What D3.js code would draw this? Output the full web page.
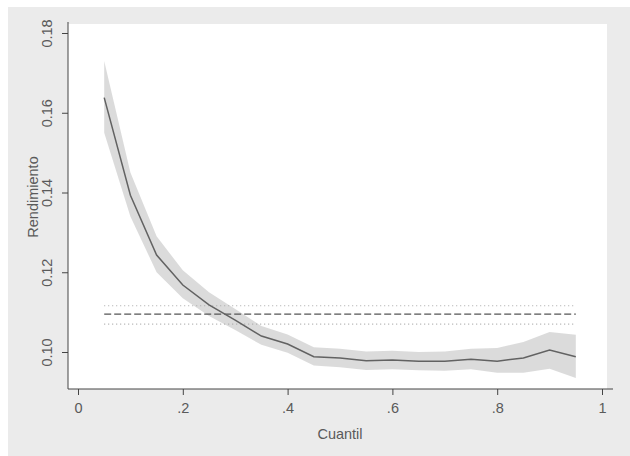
<html>
<head>
<meta charset="utf-8">
<script src="https://cdn.jsdelivr.net/npm/d3@7"></script>
<style>
	body { margin: 0; background: #ffffff; }
	svg { display: block; font-family: "Liberation Sans", Arial, Helvetica, sans-serif; }
	.tick text { fill: #5a5a5a; font-size: 14.5px; }
</style>
</head>
<body>
<svg id="chart" width="630" height="456"></svg>
<script>
// estimated quantile regression estimates
var quantiles = [0.05, 0.10, 0.15, 0.20, 0.25, 0.30, 0.35, 0.40, 0.45, 0.50,
                 0.55, 0.60, 0.65, 0.70, 0.75, 0.80, 0.85, 0.90, 0.95];
var coef  = [0.1638, 0.1393, 0.1243, 0.1168, 0.1118, 0.1080, 0.1040, 0.1020, 0.0988, 0.0985,
             0.0978, 0.0980, 0.0977, 0.0977, 0.0982, 0.0977, 0.0985, 0.1005, 0.0988];
var lower = [0.1550, 0.1340, 0.1200, 0.1135, 0.1090, 0.1055, 0.1018, 0.0998, 0.0966, 0.0962,
             0.0955, 0.0957, 0.0954, 0.0953, 0.0957, 0.0948, 0.0948, 0.0958, 0.0935];
var upper = [0.1730, 0.1450, 0.1290, 0.1205, 0.1150, 0.1108, 0.1065, 0.1044, 0.1012, 0.1008,
             0.1001, 0.1003, 0.1000, 0.1001, 0.1008, 0.1010, 0.1025, 0.1050, 0.1043];
// OLS estimate and its interval
var olsCoef = 0.1095, olsLow = 0.1070, olsHigh = 0.1116;
var xTicks = [0, 0.2, 0.4, 0.6, 0.8, 1];
var xTickLabels = ["0", ".2", ".4", ".6", ".8", "1"];
var yTicks = [0.10, 0.12, 0.14, 0.16, 0.18];

var svg = d3.select("#chart");

// outer gray area
svg.append("rect").attr("x", 8).attr("y", 7).attr("width", 622).attr("height", 449)
	.attr("fill", "#ebebeb");
// plot region
svg.append("rect").attr("x", 68).attr("y", 24).attr("width", 539).attr("height", 365)
	.attr("fill", "#ffffff");

var x = d3.scaleLinear().domain([0, 1]).range([78, 602]);
var y = d3.scaleLinear().domain([0.10, 0.18]).range([352, 33]);

var pts = quantiles.map(function(q, i) {
	return {q: q, b: coef[i], lo: lower[i], hi: upper[i]};
});

// confidence band
svg.append("path")
	.datum(pts)
	.attr("fill", "#d2d2d2")
	.attr("fill-opacity", 0.8)
	.attr("d", d3.area()
		.x(function(d) { return x(d.q); })
		.y0(function(d) { return y(d.lo); })
		.y1(function(d) { return y(d.hi); }));

// OLS lines
var q0 = quantiles[0], q1 = quantiles[quantiles.length - 1];
[[olsHigh, "1,3", "#a8a8a8", 1.2], [olsLow, "1,3", "#a8a8a8", 1.2], [olsCoef, "7,3", "#555555", 1.3]]
	.forEach(function(l) {
		svg.append("line")
			.attr("x1", x(q0)).attr("x2", x(q1))
			.attr("y1", y(l[0])).attr("y2", y(l[0]))
			.attr("stroke", l[2])
			.attr("stroke-width", l[3])
			.attr("stroke-dasharray", l[1]);
	});

// estimate line
svg.append("path")
	.datum(pts)
	.attr("fill", "none")
	.attr("stroke", "#626262")
	.attr("stroke-width", 1.5)
	.attr("d", d3.line()
		.x(function(d) { return x(d.q); })
		.y(function(d) { return y(d.b); }));

// Y axis
var gy = svg.append("g")
	.attr("transform", "translate(68,0)")
	.call(d3.axisLeft(y).tickValues(yTicks).tickFormat(d3.format(".2f")).tickSize(6).tickSizeOuter(0));
gy.select(".domain").attr("d", "M0,22V389").attr("stroke", "#444");
gy.selectAll(".tick line").attr("stroke", "#444");
gy.selectAll(".tick text")
	.attr("transform", "rotate(-90)")
	.attr("x", 0).attr("y", -16)
	.attr("dy", "0")
	.attr("text-anchor", "middle");

// X axis
var gx = svg.append("g")
	.attr("transform", "translate(0,389)")
	.call(d3.axisBottom(x).tickValues(xTicks)
		.tickFormat(function(d, i) { return xTickLabels[i]; })
		.tickSize(6).tickSizeOuter(0));
gx.select(".domain").attr("d", "M68,0H613").attr("stroke", "#444");
gx.selectAll(".tick line").attr("stroke", "#444");
gx.selectAll(".tick text").attr("y", 14).attr("dy", "0.71em");

// axis titles
svg.append("text")
	.attr("transform", "translate(38,197) rotate(-90)")
	.attr("text-anchor", "middle")
	.attr("fill", "#5a5a5a")
	.style("font-size", "14.5px")
	.text("Rendimiento");

svg.append("text")
	.attr("x", 340).attr("y", 439)
	.attr("text-anchor", "middle")
	.attr("fill", "#5a5a5a")
	.style("font-size", "14.5px")
	.text("Cuantil");
</script>
</body>
</html>
